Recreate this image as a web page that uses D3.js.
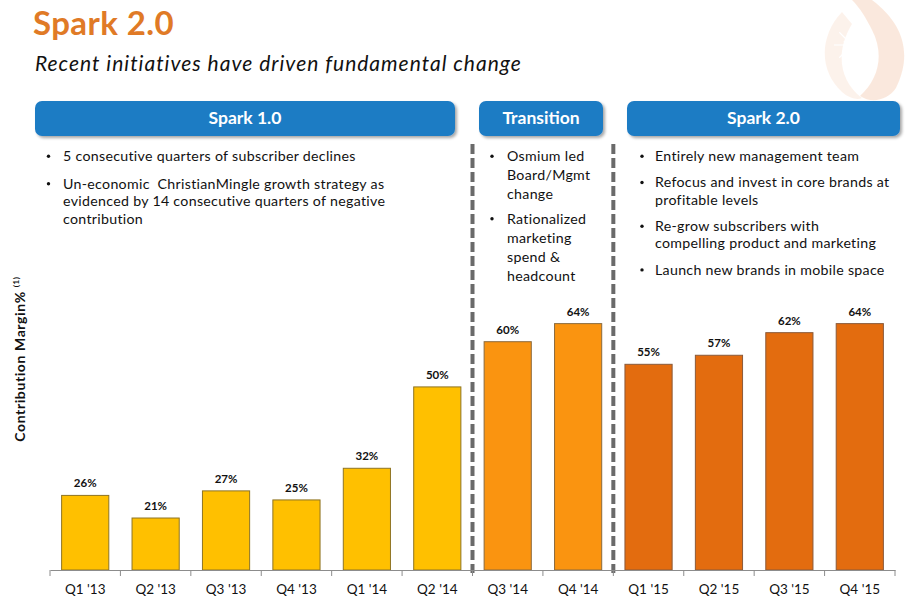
<!DOCTYPE html>
<html>
<head>
<meta charset="utf-8">
<script src="https://cdn.jsdelivr.net/npm/d3@7"></script>
<style>
  html, body { margin: 0; padding: 0; background: #ffffff; }
  svg { display: block; }
  text { font-family: Lato, "Open Sans", sans-serif; }
</style>
</head>
<body>
<svg id="chart" width="913" height="612"></svg>
<script>
// ---------------- data ----------------
const categories = ["Q1 '13", "Q2 '13", "Q3 '13", "Q4 '13", "Q1 '14", "Q2 '14",
                    "Q3 '14", "Q4 '14", "Q1 '15", "Q2 '15", "Q3 '15", "Q4 '15"];
const margins = [26, 21, 27, 25, 32, 50, 60, 64, 55, 57, 62, 64];
const phases = ["Spark 1.0", "Spark 1.0", "Spark 1.0", "Spark 1.0", "Spark 1.0", "Spark 1.0",
                "Transition", "Transition", "Spark 2.0", "Spark 2.0", "Spark 2.0", "Spark 2.0"];
const phaseNames = ["Spark 1.0", "Transition", "Spark 2.0"];
const bullets10 = [
  ["5 consecutive quarters of subscriber declines"],
  ["Un-economic  ChristianMingle growth strategy as", "evidenced by 14 consecutive quarters of negative", "contribution"]
];
const bulletsT = [
  ["Osmium led", "Board/Mgmt", "change"],
  ["Rationalized", "marketing", "spend &", "headcount"]
];
const bullets20 = [
  ["Entirely new management team"],
  ["Refocus and invest in core brands at", "profitable levels"],
  ["Re-grow subscribers with", "compelling product and marketing"],
  ["Launch new brands in mobile space"]
];
const titleText = "Spark 2.0";
const subtitleText = "Recent initiatives have driven fundamental change";
const yAxisLabel = "Contribution Margin%";

// ---------------- layout ----------------
const svg = d3.select("#chart");
const baseY = 570, axisLeft = 50, axisRight = 895;

const x = d3.scaleBand().domain(categories).range([axisLeft, axisRight])
  .paddingInner(0.33).paddingOuter(0.165);
const y = d3.scaleLinear().domain([9.5, 70]).range([baseY, 296.5]);

const fillColor = d3.scaleOrdinal().domain(phaseNames).range(["#FFC000", "#FA9410", "#E36C0F"]);
const strokeColor = d3.scaleOrdinal().domain(phaseNames).range(["#8E7424", "#8A6A3E", "#8A5A3A"]);

// ---------------- decorative logo (top right) ----------------
const logo = svg.append("g").attr("opacity", 0.5);
logo.append("path")
  .attr("d", "M872,0 C905,25 912,55 896,88 C888,100 872,104 860,96 C878,80 885,55 872,30 C866,18 860,8 852,0 Z")
  .attr("fill", "#F7D3BC");
logo.append("path")
  .attr("d", "M842,12 C820,35 818,70 842,92 C850,99 858,100 862,98 C838,80 836,50 852,24 Z")
  .attr("fill", "#FBE6D8");
const star = logo.append("g").attr("transform", "translate(852,45)");
d3.range(16).forEach(i => {
  const a = i * Math.PI / 8, r = i % 2 ? 9 : 18;
  star.append("line").attr("x1", 0).attr("y1", 0)
    .attr("x2", r * Math.cos(a)).attr("y2", r * Math.sin(a))
    .attr("stroke", "#ffffff").attr("stroke-width", 1.2);
});

// ---------------- title ----------------
svg.append("text").attr("x", 33).attr("y", 35)
  .attr("font-size", 33).attr("font-weight", 700).attr("fill", "#E07A26").attr("letter-spacing", 0.4)
  .text(titleText);
svg.append("text").attr("x", 35).attr("y", 71)
  .attr("font-size", 21).attr("font-style", "italic").attr("fill", "#111").attr("letter-spacing", 1.0)
  .text(subtitleText);

// ---------------- header boxes ----------------
const defs = svg.append("defs");
const filt = defs.append("filter").attr("id", "shadow").attr("x", "-5%").attr("y", "-20%").attr("width", "115%").attr("height", "160%");
filt.append("feDropShadow").attr("dx", 2).attr("dy", 2).attr("stdDeviation", 1.5).attr("flood-color", "#000").attr("flood-opacity", 0.35);

const boxes = [
  { name: "Spark 1.0", x0: 35, x1: 455 },
  { name: "Transition", x0: 479, x1: 603 },
  { name: "Spark 2.0", x0: 627, x1: 900 }
];
const hdr = svg.append("g").selectAll("g").data(boxes).join("g");
hdr.append("rect")
  .attr("x", d => d.x0).attr("y", 101).attr("width", d => d.x1 - d.x0).attr("height", 35)
  .attr("rx", 7).attr("ry", 7).attr("fill", "#1F7BC4").attr("filter", "url(#shadow)");
hdr.append("text")
  .attr("x", d => (d.x0 + d.x1) / 2).attr("y", 124)
  .attr("text-anchor", "middle").attr("font-size", 17.5).attr("font-weight", 700).attr("fill", "#fff")
  .text(d => d.name);

// ---------------- bullet lists ----------------
function bulletList(list, bx, tx, startY, lineH, gap, fs) {
  const g = svg.append("g");
  let yy = startY;
  list.forEach(lines => {
    g.append("circle").attr("cx", bx).attr("cy", yy - fs * 0.33).attr("r", 1.7).attr("fill", "#111");
    lines.forEach(ln => {
      g.append("text").attr("x", tx).attr("y", yy).attr("font-size", fs).attr("fill", "#111")
        .attr("letter-spacing", 0.3).attr("xml:space", "preserve").text(ln);
      yy += lineH;
    });
    yy += gap;
  });
}
bulletList(bullets10, 48.5, 63, 161, 17.5, 10, 14.2);
bulletList(bulletsT, 492, 507, 161, 19, 5.5, 14.2);
bulletList(bullets20, 642, 655, 161, 17.5, 8.7, 14.2);

// ---------------- dashed separators ----------------
const sepIdx = [6, 8];
svg.append("g").selectAll("line").data(sepIdx).join("line")
  .attr("x1", i => x(categories[i]) - x.step() * x.paddingInner() / 2)
  .attr("x2", i => x(categories[i]) - x.step() * x.paddingInner() / 2)
  .attr("y1", 144).attr("y2", baseY + 3)
  .attr("stroke", "#6A6A6A").attr("stroke-width", 4).attr("stroke-dasharray", "10,4");

// ---------------- bars ----------------
const data = categories.map((c, i) => ({ c, v: margins[i], p: phases[i] }));
svg.append("g").selectAll("rect").data(data).join("rect")
  .attr("x", d => x(d.c)).attr("width", x.bandwidth())
  .attr("y", d => y(d.v)).attr("height", d => baseY - y(d.v))
  .attr("fill", d => fillColor(d.p)).attr("stroke", d => strokeColor(d.p)).attr("stroke-width", 1);

svg.append("g").selectAll("text").data(data).join("text")
  .attr("x", d => x(d.c) + x.bandwidth() / 2).attr("y", d => y(d.v) - 8)
  .attr("text-anchor", "middle").attr("font-size", 11.5).attr("font-weight", 700).attr("fill", "#111")
  .text(d => d.v + "%");

// ---------------- x axis ----------------
const axisG = svg.append("g").attr("transform", `translate(0,${baseY})`)
  .call(d3.axisBottom(x).tickSize(0).tickPadding(14));
axisG.select(".domain").attr("stroke", "#8C8C8C").attr("stroke-width", 1.2);
axisG.selectAll(".tick text").attr("font-size", 13.5).attr("fill", "#111")
  .attr("font-family", "Lato, 'Open Sans', sans-serif");
const bounds = d3.range(categories.length + 1).map(i => axisLeft + i * x.step());
axisG.selectAll(".bound").data(bounds).join("line").attr("class", "bound")
  .attr("x1", d => d).attr("x2", d => d).attr("y1", 0).attr("y2", 6)
  .attr("stroke", "#8C8C8C").attr("stroke-width", 1);

// ---------------- y axis label ----------------
const yl = svg.append("text").attr("transform", "translate(25,359) rotate(-90)")
  .attr("text-anchor", "middle").attr("font-size", 14).attr("font-weight", 700).attr("fill", "#111")
  .attr("letter-spacing", 0.6);
yl.append("tspan").text(yAxisLabel);
yl.append("tspan").attr("font-size", 8).attr("dx", 4).attr("dy", -6).text("(1)");
</script>
</body>
</html>
